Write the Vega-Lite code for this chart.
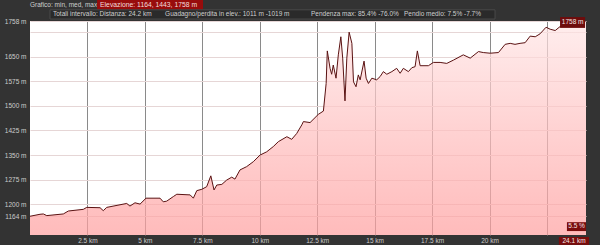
{
  "$schema": "https://vega.github.io/schema/vega-lite/v6.json",
  "width": 556,
  "height": 214,
  "autosize": {"type": "none"},
  "padding": {"left": 30, "top": 21, "right": 14, "bottom": 10},
  "background": "#333333",
  "view": {"fill": "#ffffff", "stroke": null},
  "config": {
    "font": "Liberation Sans",
    "axis": {"labelFont": "Liberation Sans", "labelFontSize": 6.5, "labelColor": "#cccccc", "ticks": false, "domain": false, "title": null, "zindex": 1, "labelOverlap": false}
  },
  "layer": [
    {
      "data": {"values": [
        {"km": 0, "elev": 1164}, {"km": 0.435, "elev": 1170}, {"km": 0.58, "elev": 1171}, {"km": 0.73, "elev": 1166},
        {"km": 1.45, "elev": 1171}, {"km": 1.67, "elev": 1180}, {"km": 2.32, "elev": 1185}, {"km": 2.47, "elev": 1191},
        {"km": 3.05, "elev": 1190}, {"km": 3.19, "elev": 1181}, {"km": 3.34, "elev": 1191}, {"km": 4.21, "elev": 1203},
        {"km": 4.35, "elev": 1195}, {"km": 4.57, "elev": 1205}, {"km": 4.79, "elev": 1201}, {"km": 5.05, "elev": 1219},
        {"km": 5.66, "elev": 1219}, {"km": 5.8, "elev": 1208}, {"km": 5.95, "elev": 1210}, {"km": 6.24, "elev": 1224},
        {"km": 6.39, "elev": 1231}, {"km": 6.97, "elev": 1229}, {"km": 7.11, "elev": 1219}, {"km": 7.26, "elev": 1242},
        {"km": 7.48, "elev": 1246}, {"km": 7.69, "elev": 1254}, {"km": 7.87, "elev": 1287}, {"km": 8.01, "elev": 1244},
        {"km": 8.13, "elev": 1259}, {"km": 8.35, "elev": 1261}, {"km": 8.56, "elev": 1274}, {"km": 8.78, "elev": 1283},
        {"km": 8.92, "elev": 1277}, {"km": 9.14, "elev": 1305}, {"km": 9.43, "elev": 1315}, {"km": 9.72, "elev": 1330},
        {"km": 10.01, "elev": 1350}, {"km": 10.3, "elev": 1360}, {"km": 10.59, "elev": 1376}, {"km": 10.81, "elev": 1391},
        {"km": 11.18, "elev": 1406}, {"km": 11.39, "elev": 1398}, {"km": 11.61, "elev": 1416}, {"km": 11.83, "elev": 1442},
        {"km": 11.9, "elev": 1452}, {"km": 12.19, "elev": 1449}, {"km": 12.55, "elev": 1474}, {"km": 12.77, "elev": 1484},
        {"km": 12.89, "elev": 1568}, {"km": 12.94, "elev": 1667}, {"km": 13.06, "elev": 1614}, {"km": 13.13, "elev": 1596},
        {"km": 13.2, "elev": 1624}, {"km": 13.32, "elev": 1584}, {"km": 13.42, "elev": 1655}, {"km": 13.53, "elev": 1710},
        {"km": 13.61, "elev": 1645}, {"km": 13.71, "elev": 1515}, {"km": 13.79, "elev": 1645}, {"km": 13.89, "elev": 1724},
        {"km": 14.01, "elev": 1690}, {"km": 14.08, "elev": 1573}, {"km": 14.19, "elev": 1558}, {"km": 14.29, "elev": 1594},
        {"km": 14.37, "elev": 1579}, {"km": 14.54, "elev": 1636}, {"km": 14.63, "elev": 1584}, {"km": 14.73, "elev": 1568},
        {"km": 14.88, "elev": 1584}, {"km": 15.09, "elev": 1579}, {"km": 15.24, "elev": 1589}, {"km": 15.38, "elev": 1604},
        {"km": 15.53, "elev": 1596}, {"km": 15.75, "elev": 1604}, {"km": 15.96, "elev": 1614}, {"km": 16.11, "elev": 1599},
        {"km": 16.25, "elev": 1614}, {"km": 16.47, "elev": 1604}, {"km": 16.62, "elev": 1616}, {"km": 16.76, "elev": 1619},
        {"km": 16.86, "elev": 1667}, {"km": 16.98, "elev": 1622}, {"km": 17.34, "elev": 1622}, {"km": 17.56, "elev": 1632},
        {"km": 17.85, "elev": 1632}, {"km": 18.14, "elev": 1629}, {"km": 18.43, "elev": 1639}, {"km": 18.86, "elev": 1655},
        {"km": 19.16, "elev": 1645}, {"km": 19.52, "elev": 1665}, {"km": 19.73, "elev": 1662}, {"km": 20.03, "elev": 1660},
        {"km": 20.39, "elev": 1662}, {"km": 20.68, "elev": 1687}, {"km": 20.9, "elev": 1690}, {"km": 21.11, "elev": 1687},
        {"km": 21.33, "elev": 1690}, {"km": 21.55, "elev": 1692}, {"km": 21.77, "elev": 1712}, {"km": 21.99, "elev": 1710},
        {"km": 22.2, "elev": 1719}, {"km": 22.46, "elev": 1739}, {"km": 22.64, "elev": 1733}, {"km": 22.86, "elev": 1729},
        {"km": 23.07, "elev": 1741}, {"km": 23.25, "elev": 1746}, {"km": 23.51, "elev": 1749}, {"km": 23.86, "elev": 1755},
        {"km": 24.1, "elev": 1758}, {"km": 24.2, "elev": 1758}
      ]},
      "mark": {
        "type": "area",
        "clip": true,
        "interpolate": "linear",
        "color": {"gradient": "linear", "x1": 0, "y1": 0, "x2": 0, "y2": 1, "stops": [{"offset": 0, "color": "#ffe6e6"}, {"offset": 0.5, "color": "#ffc0c0"}, {"offset": 1, "color": "#ff9e9e"}]},
        "line": {"color": "#5a1212", "strokeWidth": 1}
      },
      "encoding": {
        "x": {"field": "km", "type": "quantitative", "scale": {"domain": [0, 24.2], "nice": false, "zero": false},
          "axis": {"values": [2.5, 5, 7.5, 10, 12.5, 15, 17.5, 20, 22.5], "tickCount": 30, "labelExpr": "datum.value == 22.5 ? '' : datum.value + ' km'", "gridColor": "#8a8a8a", "gridWidth": 1, "labelPadding": 2, "labelFlush": false, "labelOverlap": false}},
        "y": {"field": "elev", "type": "quantitative", "stack": null, "scale": {"domain": [1107, 1758], "nice": false, "zero": false},
          "axis": {"values": [1164, 1200, 1275, 1350, 1425, 1500, 1575, 1650, 1725, 1758], "tickCount": 30, "labelExpr": "datum.value == 1725 ? '' : datum.value + ' m'", "gridColor": "#e6d6d6", "gridWidth": 1, "labelPadding": 4, "labelFlush": false, "labelOverlap": false, "labelBound": false}}
      }
    },
    {
      "data": {"values": [{"label": "Grafico: min, med, max"}]},
      "mark": {"type": "text", "align": "left", "baseline": "middle", "fontSize": 6.5, "color": "#cfcfcf"},
      "encoding": {"x": {"datum": 0}, "y": {"datum": 1807}, "text": {"field": "label"}}
    },
    {
      "data": {"values": [{"label": "box"}]},
      "mark": {"type": "rect", "color": "#980c0c"},
      "encoding": {"x": {"datum": 2.92}, "x2": {"datum": 7.53}, "y": {"datum": 1822}, "y2": {"datum": 1792}}
    },
    {
      "data": {"values": [{"label": "Elevazione: 1164, 1443, 1758 m"}]},
      "mark": {"type": "text", "align": "left", "baseline": "middle", "fontSize": 6.8, "color": "#f2dede"},
      "encoding": {"x": {"datum": 3.05}, "y": {"datum": 1807}, "text": {"field": "label"}}
    },
    {
      "data": {"values": [{"label": "box"}]},
      "mark": {"type": "rect", "color": "#2a2a2a", "stroke": "#4a4a4a", "strokeWidth": 1},
      "encoding": {"x": {"datum": 0.87}, "x2": {"datum": 20.24}, "y": {"datum": 1792}, "y2": {"datum": 1764}}
    },
    {
      "data": {"values": [{"label": "Totali intervallo: Distanza: 24.2 km"}]},
      "mark": {"type": "text", "align": "left", "baseline": "middle", "fontSize": 6.5, "color": "#cfcfcf"},
      "encoding": {"x": {"datum": 1.0}, "y": {"datum": 1779}, "text": {"field": "label"}}
    },
    {
      "data": {"values": [{"label": "Guadagno/perdita in elev.: 1011 m -1019 m"}]},
      "mark": {"type": "text", "align": "left", "baseline": "middle", "fontSize": 6.5, "color": "#cfcfcf"},
      "encoding": {"x": {"datum": 5.88}, "y": {"datum": 1779}, "text": {"field": "label"}}
    },
    {
      "data": {"values": [{"label": "Pendenza max: 85.4% -76.0%"}]},
      "mark": {"type": "text", "align": "left", "baseline": "middle", "fontSize": 6.5, "color": "#cfcfcf"},
      "encoding": {"x": {"datum": 12.23}, "y": {"datum": 1779}, "text": {"field": "label"}}
    },
    {
      "data": {"values": [{"label": "Pendio medio: 7.5% -7.7%"}]},
      "mark": {"type": "text", "align": "left", "baseline": "middle", "fontSize": 6.5, "color": "#cfcfcf"},
      "encoding": {"x": {"datum": 16.28}, "y": {"datum": 1779}, "text": {"field": "label"}}
    },
    {
      "data": {"values": [{"label": "box"}]},
      "mark": {"type": "rect", "color": "#6e0c0c"},
      "encoding": {"x": {"datum": 23.07}, "x2": {"datum": 24.16}, "y": {"datum": 1770}, "y2": {"datum": 1737}}
    },
    {
      "data": {"values": [{"label": "1758 m"}]},
      "mark": {"type": "text", "align": "center", "baseline": "middle", "fontSize": 6.5, "color": "#f5e6e6"},
      "encoding": {"x": {"datum": 23.62}, "y": {"datum": 1754}, "text": {"field": "label"}}
    },
    {
      "data": {"values": [{"label": "box"}]},
      "mark": {"type": "rect", "color": "#7a0d0d"},
      "encoding": {"x": {"datum": 23.37}, "x2": {"datum": 24.2}, "y": {"datum": 1146}, "y2": {"datum": 1119}}
    },
    {
      "data": {"values": [{"label": "5.5 %"}]},
      "mark": {"type": "text", "align": "center", "baseline": "middle", "fontSize": 6.5, "color": "#f5e6e6"},
      "encoding": {"x": {"datum": 23.79}, "y": {"datum": 1133}, "text": {"field": "label"}}
    },
    {
      "data": {"values": [{"label": "box"}]},
      "mark": {"type": "rect", "color": "#7a0d0d"},
      "encoding": {"x": {"datum": 23.02}, "x2": {"datum": 24.33}, "y": {"datum": 1101}, "y2": {"datum": 1077}}
    },
    {
      "data": {"values": [{"label": "24.1 km"}]},
      "mark": {"type": "text", "align": "center", "baseline": "middle", "fontSize": 6.5, "color": "#f5e6e6"},
      "encoding": {"x": {"datum": 23.68}, "y": {"datum": 1089}, "text": {"field": "label"}}
    }
  ]
}
